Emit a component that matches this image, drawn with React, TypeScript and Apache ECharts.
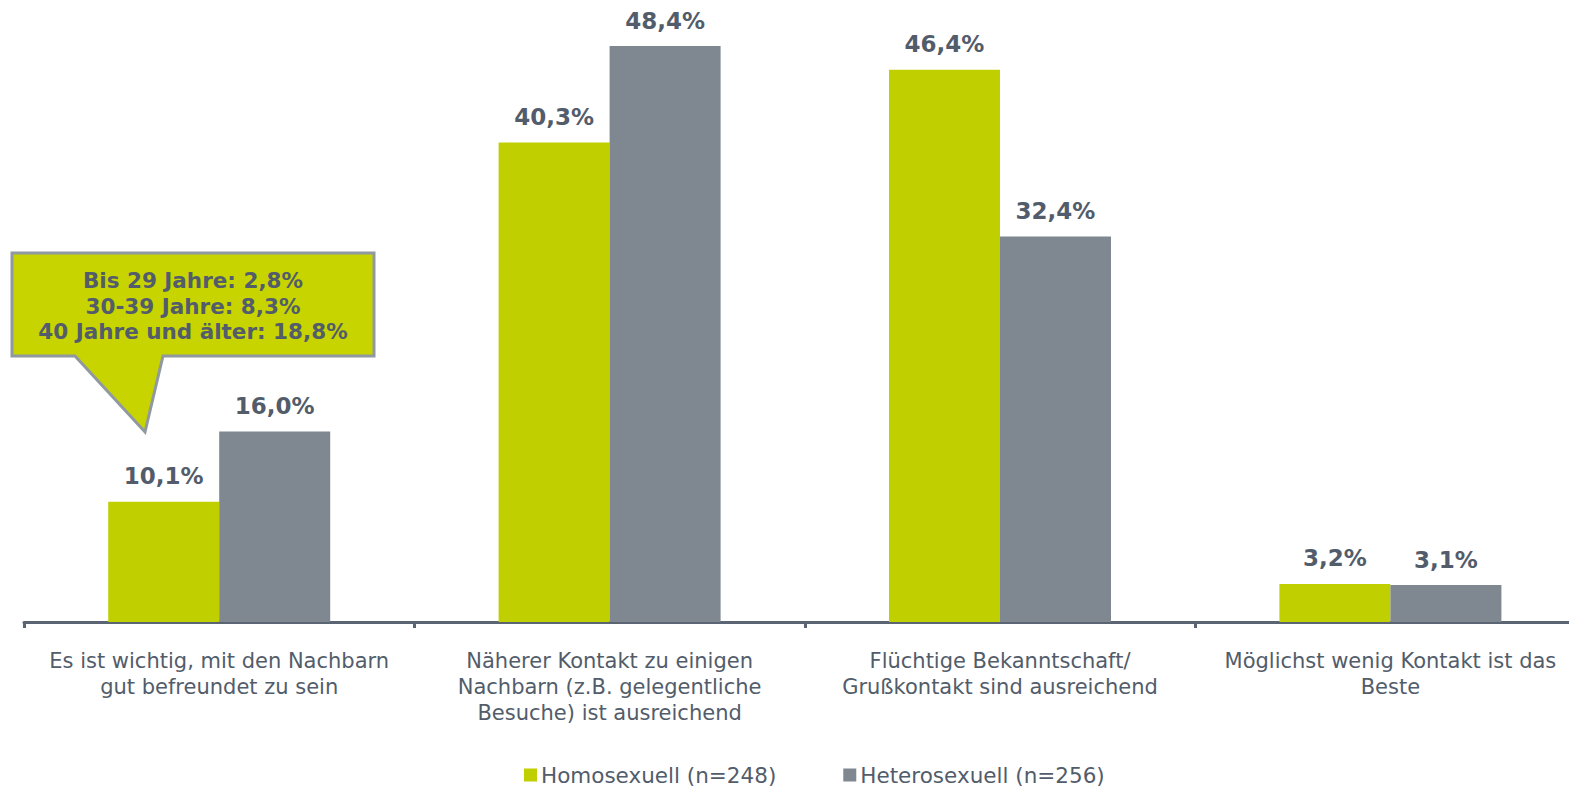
import React, { useEffect, useRef } from "react";
import * as echarts from "echarts";

const categories = [
  "Es ist wichtig, mit den Nachbarn\ngut befreundet zu sein",
  "Näherer Kontakt zu einigen\nNachbarn (z.B. gelegentliche\nBesuche) ist ausreichend",
  "Flüchtige Bekanntschaft/\nGrußkontakt sind ausreichend",
  "Möglichst wenig Kontakt ist das\nBeste",
];
const homoValues = [10.1, 40.3, 46.4, 3.2];
const heteroValues = [16.0, 48.4, 32.4, 3.1];
const seriesNames = ["Homosexuell (n=248)", "Heterosexuell (n=256)"];
const calloutLines = ["Bis 29 Jahre: 2,8%", "30-39 Jahre: 8,3%", "40 Jahre und älter: 18,8%"];

const GREEN = "#c0cf00";
const GRAY = "#7f8790";
const TEXT = "#525c6a";
const FONT = "'DejaVu Sans', Verdana, sans-serif";

export default function App() {
  const ref = useRef<HTMLDivElement>(null);
  useEffect(() => {
    document.body.style.margin = "0";
    const chart = echarts.init(ref.current!, null, { renderer: "svg" });
    const fmt = (p: any) => String(p.value.toFixed(1)).replace(".", ",") + "%";
    const label = {
      show: true,
      position: "top" as const,
      distance: 14,
      formatter: fmt,
      color: TEXT,
      fontFamily: FONT,
      fontWeight: "bold" as const,
      fontSize: 23,
    };
    chart.setOption({
      animation: false,
      textStyle: { fontFamily: FONT },
      grid: { left: 24, right: 14.4, top: 27, bottom: 788 - 622 },
      legend: {
        top: 759,
        left: 519,
        itemWidth: 13,
        itemHeight: 13,
        itemGap: 67,
        icon: "rect",
        textStyle: { color: TEXT, fontSize: 21.5, fontFamily: FONT, padding: [0, 0, 0, -1] },
        data: seriesNames,
      },
      xAxis: {
        type: "category",
        data: categories,
        axisLine: { lineStyle: { color: "#5a6472", width: 3 } },
        axisTick: { show: true, length: 6, lineStyle: { color: "#5a6472", width: 3 } },
        axisLabel: {
          color: TEXT,
          fontSize: 21,
          lineHeight: 26,
          margin: 26,
          fontFamily: FONT,
          interval: 0,
        },
      },
      yAxis: {
        type: "value",
        min: 0,
        max: 50,
        show: false,
        splitLine: { show: false },
      },
      series: [
        {
          name: seriesNames[0],
          type: "bar",
          data: homoValues,
          itemStyle: { color: GREEN },
          barWidth: 111,
          barGap: "0%",
          label,
        },
        {
          name: seriesNames[1],
          type: "bar",
          data: heteroValues,
          itemStyle: { color: GRAY },
          barWidth: 111,
          barGap: "0%",
          label,
        },
      ],
      graphic: [
        {
          type: "polygon",
          z: 100,
          shape: {
            points: [
              [12, 253],
              [374, 253],
              [374, 356],
              [163, 356],
              [145, 432],
              [75, 356],
              [12, 356],
            ],
          },
          style: { fill: "#c8d400", stroke: "#9098a0", lineWidth: 3 },
        },
        {
          type: "text",
          z: 101,
          x: 193,
          y: 306,
          style: {
            text: calloutLines.join("\n"),
            align: "center",
            verticalAlign: "middle",
            fill: TEXT,
            font: `bold 21.5px ${FONT}`,
            lineHeight: 25.5,
          },
        },
      ],
    });
    return () => chart.dispose();
  }, []);
  return (
    <div style={{ width: 1569, height: 788, overflow: "hidden", position: "relative" }}>
      <div ref={ref} style={{ width: 1600, height: 788 }} />
    </div>
  );
}
